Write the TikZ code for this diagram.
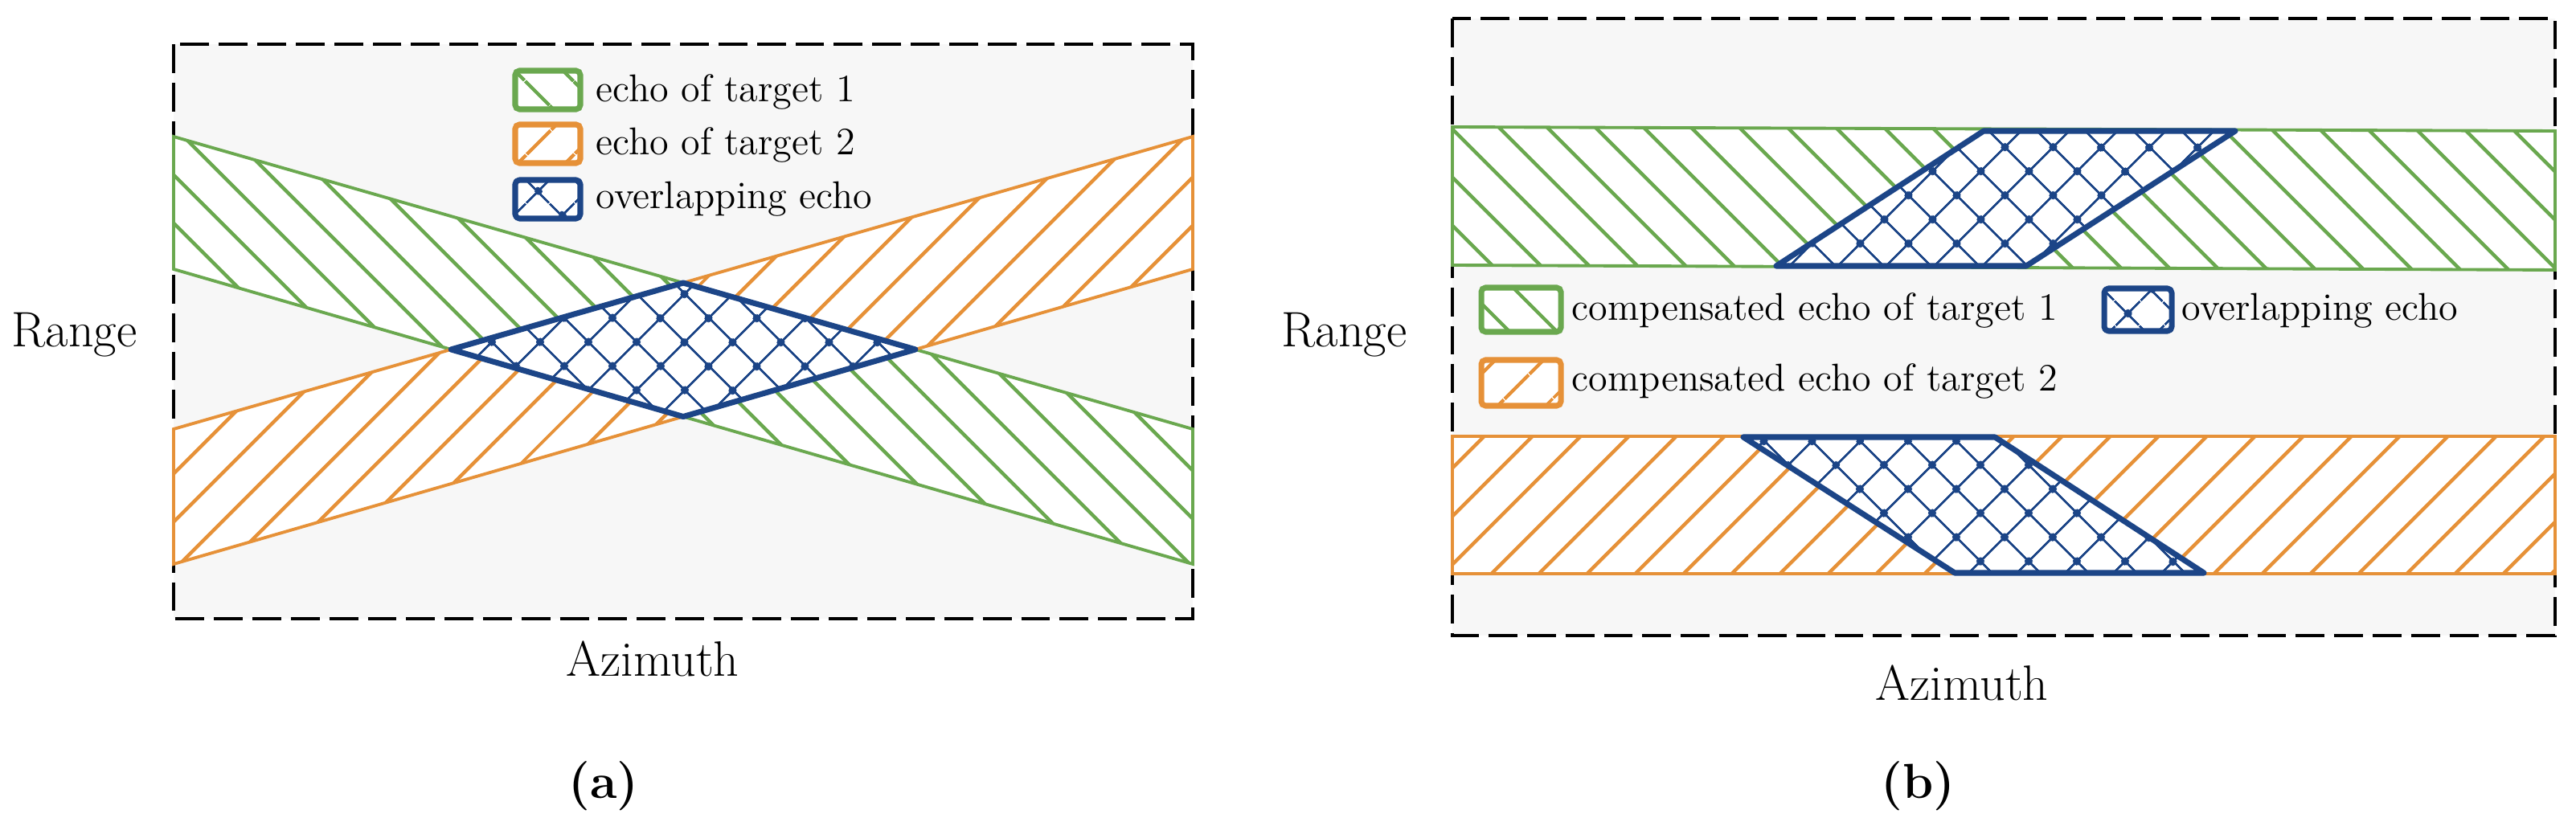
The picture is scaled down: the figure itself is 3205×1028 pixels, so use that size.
\documentclass[tikz,border=0pt]{standalone}
\usepackage{fontspec}
\usetikzlibrary{patterns.meta,calc}
\definecolor{verde}{HTML}{6AA84F}
\definecolor{naranja}{HTML}{E69138}
\definecolor{azul}{HTML}{1C4587}
\definecolor{fondo}{HTML}{F7F7F7}

\begin{document}
\begin{tikzpicture}[x=0.01cm, y=-0.01cm,
      font=\fontsize{13.7}{16}\selectfont,
      caja/.style={draw=black, fill=fondo, line width=1.2pt,
                   dash pattern=on 10.2pt off 3.4pt},
      e1/.style={draw=verde, line width=1.1pt, preaction={fill=white},
                 preaction={pattern={Lines[angle=-45,distance=4.3mm,line width=1.3pt]},
                            pattern color=verde}},
      e2/.style={draw=naranja, line width=1.1pt, preaction={fill=white},
                 preaction={pattern={Lines[angle=45,distance=4.3mm,line width=1.3pt]},
                            pattern color=naranja}},
      ov/.style={draw=azul, line width=2pt, line join=round, preaction={fill=white},
                 preaction={pattern={Lines[angle=45,distance=4.3mm,line width=0.8pt]},
                            pattern color=azul},
                 preaction={pattern={Lines[angle=-45,distance=4.3mm,line width=0.8pt]},
                            pattern color=azul},
                 preaction={pattern={Dots[angle=45,distance=4.3mm,radius=0.5mm]},
                            pattern color=azul}},
      ley/.style={rounded corners=1.5pt, line width=2pt},
      et/.style={anchor=base west, inner sep=0pt},
      eje/.style={et, font=\fontsize{17.6}{20}\selectfont},
      sub/.style={et, font=\fontsize{17.4}{20}\selectfont\bfseries},
    ]
    \useasboundingbox (0,0) rectangle (3205,1028);

    % =============== (a) ECOS SIN COMPENSAR ===============================
    \draw[caja] (216,55) rectangle (1484,770);

    % --- Bandas de los dos blancos ---
    \coordinate (g1) at (216,170);  \coordinate (g2) at (1484,534);
    \coordinate (g3) at (1484,702); \coordinate (g4) at (216,335);
    \coordinate (o1) at (216,534);  \coordinate (o2) at (1484,170);
    \coordinate (o3) at (1484,335); \coordinate (o4) at (216,702);
    \draw[e1] (g1) -- (g2) -- (g3) -- (g4) -- cycle;
    \draw[e2] (o1) -- (o2) -- (o3) -- (o4) -- cycle;

    % --- Zona solapada ---
    \draw[ov] (intersection of g4--g3 and o1--o2)
      -- (intersection of g1--g2 and o1--o2)
      -- (intersection of g1--g2 and o4--o3)
      -- (intersection of g4--g3 and o4--o3) -- cycle;

    % --- Leyenda ---
    \draw[e1, ley] (641,88)  rectangle (722,136);
    \draw[e2, ley] (641,155) rectangle (722,203);
    \draw[ov, ley] (641,224) rectangle (722,272);
    \node[et] (la1) at (741,127) {echo of target 1};
    \node[et] (la2) at (741,193) {echo of target 2};
    \node[et] (la3) at (741,260) {overlapping echo};

    % --- Ejes ---
    \node[eje] (rgA) at (14,432)  {Range};
    \node[eje] (azA) at (704,842) {Azimuth};
    \node[sub] (capA) at (707,993) {(a)};

    % =============== (b) ECOS COMPENSADOS =================================
    \draw[caja] (1807,23) rectangle (3179,791);

    % --- Bandas ---
    \draw[e1] (1807,158) -- (3179,163) -- (3179,336) -- (1807,330) -- cycle;
    \draw[e2] (1807,543) rectangle (3179,714);

    % --- Zonas solapadas ---
    \draw[ov] (2210,331) -- (2468,163) -- (2781,163) -- (2521,331) -- cycle;
    \draw[ov] (2169,544) -- (2482,544) -- (2742,713) -- (2432,713) -- cycle;

    % --- Leyenda ---
    \draw[e1, ley] (1843,358) rectangle (1942,413);
    \draw[ov, ley] (2618,359) rectangle (2702,412);
    \draw[e2, ley] (1843,448) rectangle (1942,505);
    \node[et] (lb1) at (1955,399) {compensated echo of target 1};
    \node[et] (lb2) at (2714,399) {overlapping echo};
    \node[et] (lb3) at (1955,487) {compensated echo of target 2};

    % --- Ejes ---
    \node[eje] (rgB) at (1594,432)  {Range};
    \node[eje] (azB) at (2333,872) {Azimuth};
    \node[sub] (capB) at (2340,993) {(b)};
  \end{tikzpicture}
\end{document}
